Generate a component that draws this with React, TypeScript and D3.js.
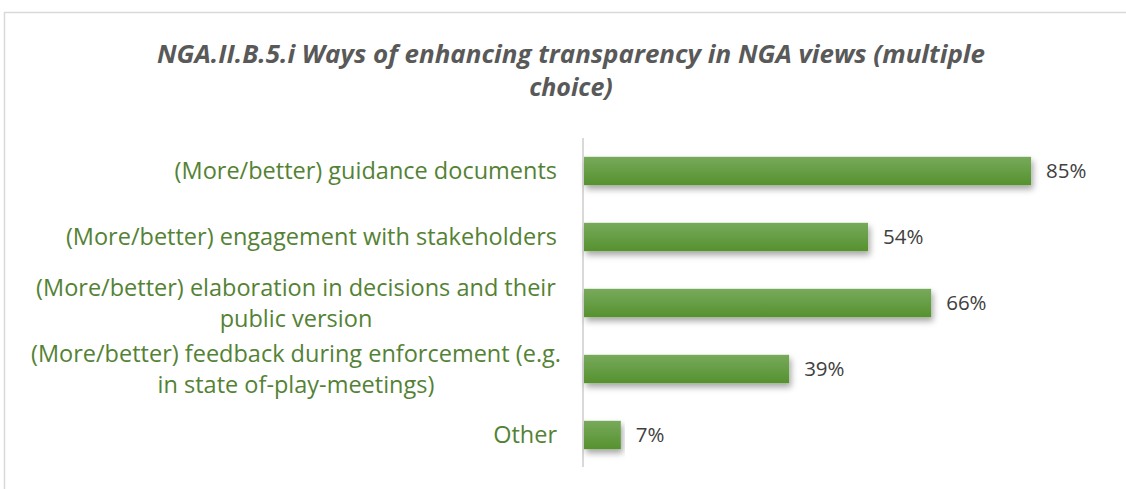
import React from 'react';
import * as d3 from 'd3';

const categories = [
  ['(More/better) guidance documents'],
  ['(More/better) engagement with stakeholders'],
  ['(More/better) elaboration in decisions and their', 'public version'],
  ['(More/better) feedback during enforcement (e.g.', 'in state of-play-meetings)'],
  ['Other'],
];
const values = [0.85, 0.54, 0.66, 0.39, 0.07];
const titleLines = ['NGA.II.B.5.i Ways of enhancing transparency in NGA views (multiple', 'choice)'];

const W = 1126;
const H = 489;

const App = () => {
  const idx = categories.map((_, i) => i);
  const y = d3.scaleBand<number>().domain(idx).range([138, 468]).paddingInner(0.57).paddingOuter(0.285);
  const x = d3.scaleLinear().domain([0, 1]).range([584, 1110]);
  const fmt = d3.format('.0%');
  const font = "'Open Sans', sans-serif";

  return (
    <svg width={W} height={H} style={{ position: 'absolute', left: 0, top: 0 }}>
      <defs>
        <linearGradient id="barG" x1="0" y1="0" x2="0" y2="1">
          <stop offset="0%" stopColor="#77aa5b" />
          <stop offset="100%" stopColor="#56912f" />
        </linearGradient>
        <filter id="shadow" x="-5%" y="-30%" width="115%" height="180%">
          <feDropShadow dx="2" dy="4" stdDeviation="3" floodColor="#000" floodOpacity="0.35" />
        </filter>
      </defs>
      <rect x={4.5} y={12.5} width={W} height={H} fill="#fff" stroke="#d9d9d9" strokeWidth={1.5} />
      {titleLines.map((t, i) => (
        <text key={i} x={571} y={63 + i * 33} textAnchor="middle" fontSize={25} fontStyle="italic" fontWeight="bold"
          fill="#595959" fontFamily={font} textLength={i === 0 ? 828 : undefined} lengthAdjust="spacingAndGlyphs">
          {t}
        </text>
      ))}
      <line x1={583} x2={583} y1={138} y2={467} stroke="#d9d9d9" strokeWidth={2} />
      {values.map((v, i) => {
        const by = y(i) as number;
        const bh = y.bandwidth();
        return (
          <g key={i}>
            <rect x={x(0)} y={by} width={x(v) - x(0)} height={bh} fill="url(#barG)" filter="url(#shadow)" />
            <text x={x(v) + 15} y={by + bh / 2} dy="0.35em" fontSize={20.5} fill="#404040" fontFamily={font}>
              {fmt(v)}
            </text>
          </g>
        );
      })}
      {categories.map((lines, i) => {
        const cy = (y(i) as number) + y.bandwidth() / 2;
        const lh = 31;
        const start = cy - ((lines.length - 1) * lh) / 2;
        const multi = lines.length > 1;
        return lines.map((l, j) => (
          <text key={`${i}-${j}`} x={multi ? 296 : 557} y={start + j * lh} dy="0.35em"
            textAnchor={multi ? 'middle' : 'end'} fontSize={23.5} fill="#548235" fontFamily={font}>
            {l}
          </text>
        ));
      })}
    </svg>
  );
};

export default App;
